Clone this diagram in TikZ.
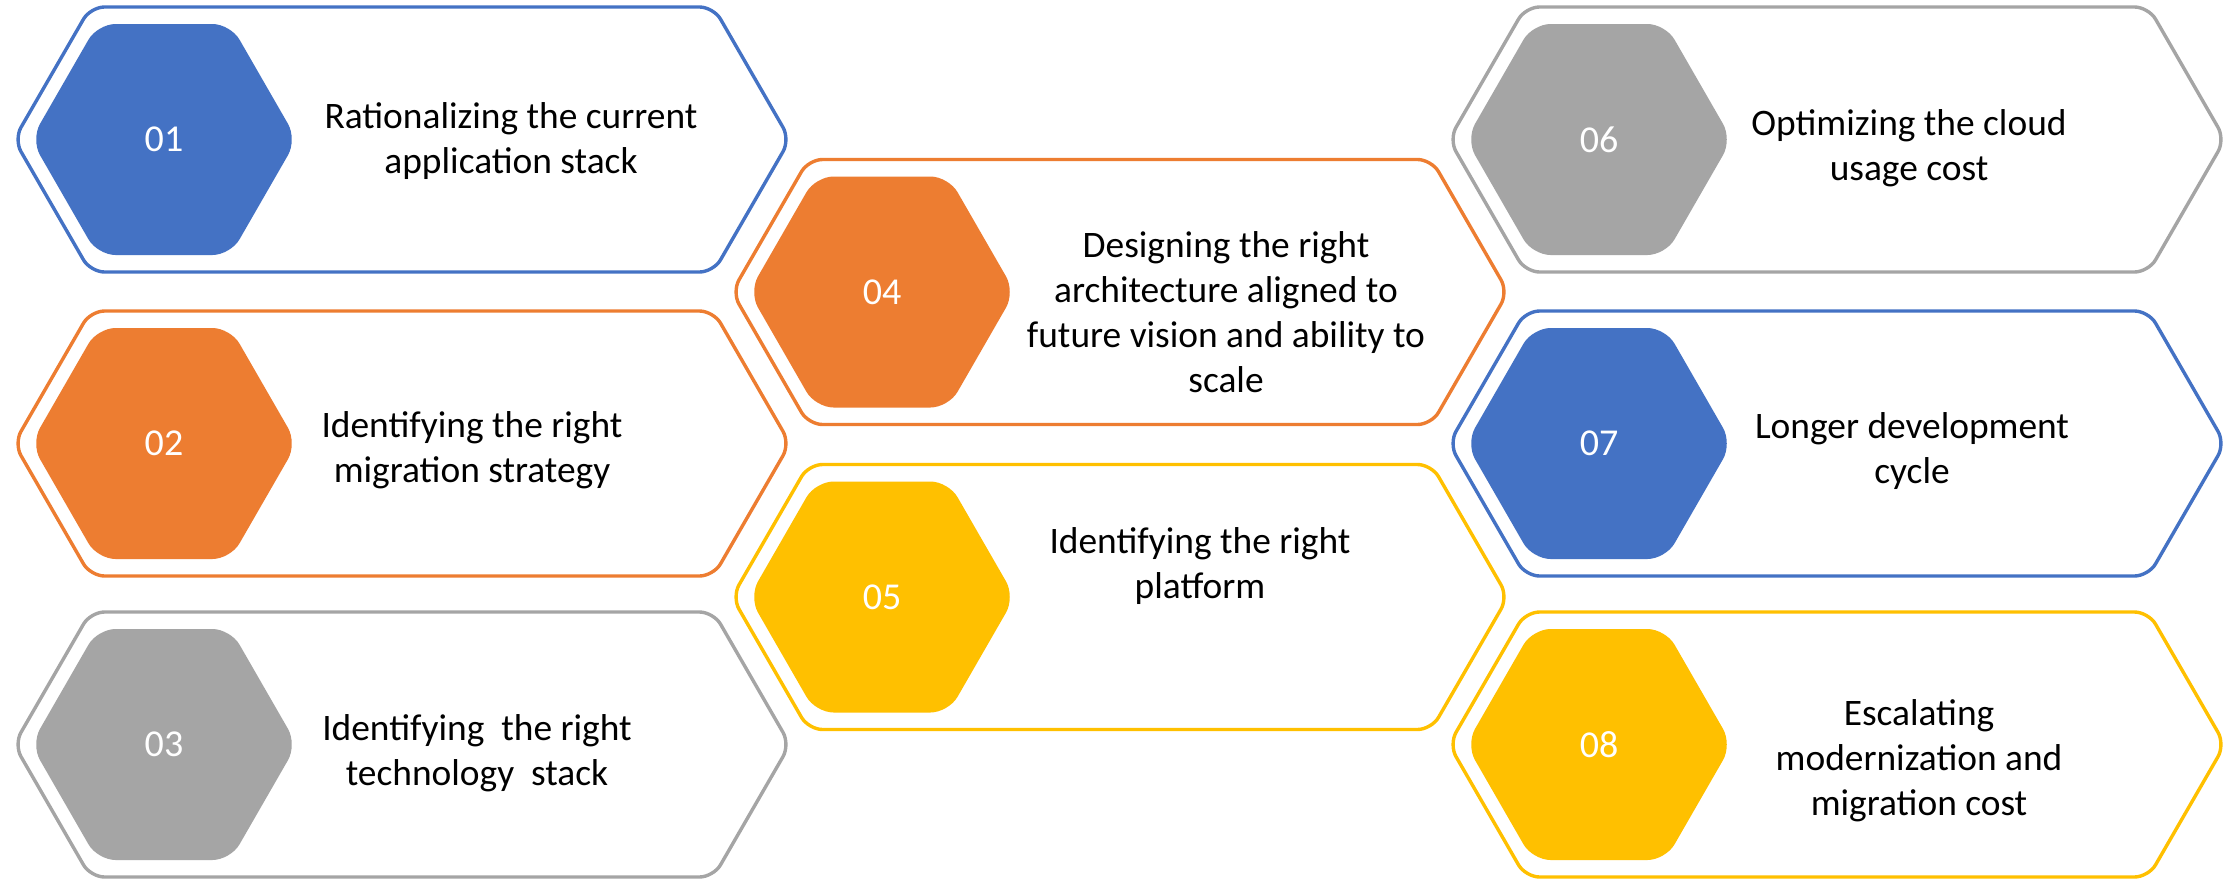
\documentclass[tikz,border=0pt]{standalone}
\usepackage{fontspec}
\setmainfont{Carlito}
\definecolor{cblue}{HTML}{4472C4}
\definecolor{corange}{HTML}{ED7D31}
\definecolor{cgray}{HTML}{A5A5A5}
\definecolor{cyellow}{HTML}{FFC000}
\tikzset{
  outerbox/.style={line width=1.7pt, rounded corners=7pt, fill=white},
  innerhex/.style={rounded corners=9pt},
  numlabel/.style={text=white, font=\fontsize{19}{22}\selectfont, inner sep=0pt},
  desc/.style={font=\fontsize{18.7}{22.5}\selectfont, inner sep=0pt, anchor=base}
}
% #1 = left tip x, #2 = centre y, #3 = colour, #4 = number, #5 = name
\newcommand\hexpanel[5]{%
  \begin{scope}[shift={(#1,#2)}]
    \draw[outerbox, draw=#3] (0,0) -- (76.5,-132.5) -- (699.5,-132.5) -- (776,0)
      -- (699.5,132.5) -- (76.5,132.5) -- cycle;
    \fill[innerhex, #3] (17,0) -- (83.5,-115.5) -- (216.5,-115.5) -- (283,0)
      -- (216.5,115.5) -- (83.5,115.5) -- cycle;
    \node[numlabel] (#5) at (150,0) {#4};
  \end{scope}}
\newcommand\lns[1]{\begin{tabular}[t]{@{}c@{}}#1\end{tabular}}
\begin{document}
\begin{tikzpicture}[x=0.5pt, y=-0.5pt]
  \useasboundingbox (0,0) rectangle (2236,878);
  \hexpanel{14}{139.5}{cblue}{01}{n1}
  \hexpanel{14}{443.5}{corange}{02}{n2}
  \hexpanel{14}{744.5}{cgray}{03}{n3}
  \hexpanel{732}{292}{corange}{04}{n4}
  \hexpanel{732}{597}{cyellow}{05}{n5}
  \hexpanel{1449}{139.5}{cgray}{06}{n6}
  \hexpanel{1449}{443.5}{cblue}{07}{n7}
  \hexpanel{1449}{744.5}{cyellow}{08}{n8}
  \node[desc] (t1) at (511,128) {\lns{Rationalizing the current\\application stack}};
  \node[desc] (t2) at (472,437) {\lns{Identifying the right\\migration strategy}};
  \node[desc] (t3) at (477,740) {\lns{Identifying\ \ the right\\technology\ \ stack}};
  \node[desc] (t4) at (1226,257) {\lns{Designing the right\\architecture aligned to\\future vision and ability to\\scale}};
  \node[desc] (t5) at (1200,553) {\lns{Identifying the right\\platform}};
  \node[desc] (t6) at (1909,135) {\lns{Optimizing the cloud\\usage cost}};
  \node[desc] (t7) at (1912,438) {\lns{Longer development\\cycle}};
  \node[desc] (t8) at (1919,725) {\lns{Escalating\\modernization and\\migration cost}};
\end{tikzpicture}
\end{document}
